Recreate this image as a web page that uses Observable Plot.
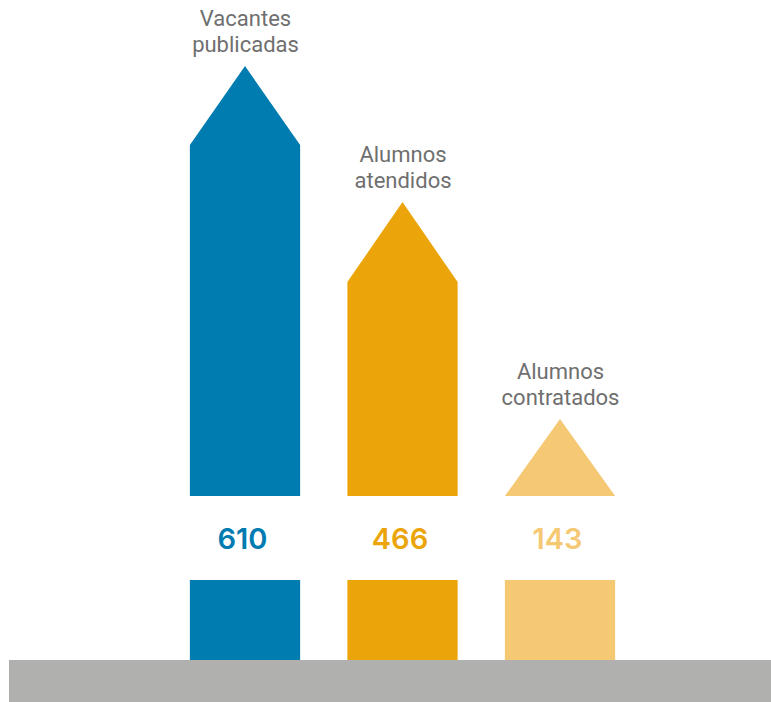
<!DOCTYPE html>
<html>
<head>
<meta charset="utf-8">
<script src="https://cdn.jsdelivr.net/npm/d3@7"></script>
<script src="https://cdn.jsdelivr.net/npm/@observablehq/plot@0.6"></script>
<style>
  html, body { margin: 0; padding: 0; background: #ffffff; }
  #chart svg { display: block; }
</style>
</head>
<body>
<div id="chart"></div>
<script>
// ---- data ----
const categories = ["Vacantes\npublicadas", "Alumnos\natendidos", "Alumnos\ncontratados"];
const values = [610, 466, 143];
// arrow tip and shoulder heights (chart units above the ground line)
const arrowTip = [594, 458, 241];
const arrowShoulder = [515, 378, 164];
const colors = ["#007cb1", "#eba50b", "#f5c974"];

// layout constants (chart units)
const lowerTop = 80;     // top of the lower bar segment
const upperBase = 164;   // bottom of the arrow
const valueMid = 121;    // where the value is written
const groundDepth = -42;
const half = 0.35;       // half bar width in category units

const rows = categories.map((c, i) => ({
  i, label: c, value: values[i], tip: arrowTip[i], shoulder: arrowShoulder[i], color: colors[i]
}));

// outline points of each arrow
const outline = rows.flatMap(d => [
  {i: d.i, x: d.i - half, y: d.shoulder, color: d.color},
  {i: d.i, x: d.i, y: d.tip, color: d.color},
  {i: d.i, x: d.i + half, y: d.shoulder, color: d.color}
]);

const chart = Plot.plot({
  width: 771,
  height: 702,
  marginLeft: 9,
  marginRight: 0,
  marginTop: 0,
  marginBottom: 0,
  x: {domain: [0, 2], range: [245, 560], axis: null},
  y: {domain: [groundDepth, 660], axis: null},
  style: {background: "#ffffff"},
  marks: [
    // ground
    Plot.rectY([0], {y1: groundDepth, y2: 0, fill: "#b0b0ae"}),
    // lower bar segment
    Plot.rect(rows, {x1: d => d.i - half, x2: d => d.i + half, y1: 0, y2: lowerTop, fill: d => d.color}),
    // arrow body + head
    Plot.areaY(outline, {x: "x", y1: upperBase, y2: "y", z: "i", fill: d => d.color, curve: "linear"}),
    // value
    Plot.text(rows, {x: "i", y: valueMid, text: d => String(d.value), fill: d => d.color,
      fontSize: 29, fontWeight: 600, fontFamily: "Inter", lineAnchor: "middle", dx: -3}),
    // category label
    Plot.text(rows, {x: "i", y: "tip", text: "label", fill: "#6f6f6f", fontSize: 22,
      fontFamily: "Roboto", lineAnchor: "bottom", lineHeight: 1.16, dy: -15})
  ]
});
document.getElementById("chart").appendChild(chart);
</script>
</body>
</html>
